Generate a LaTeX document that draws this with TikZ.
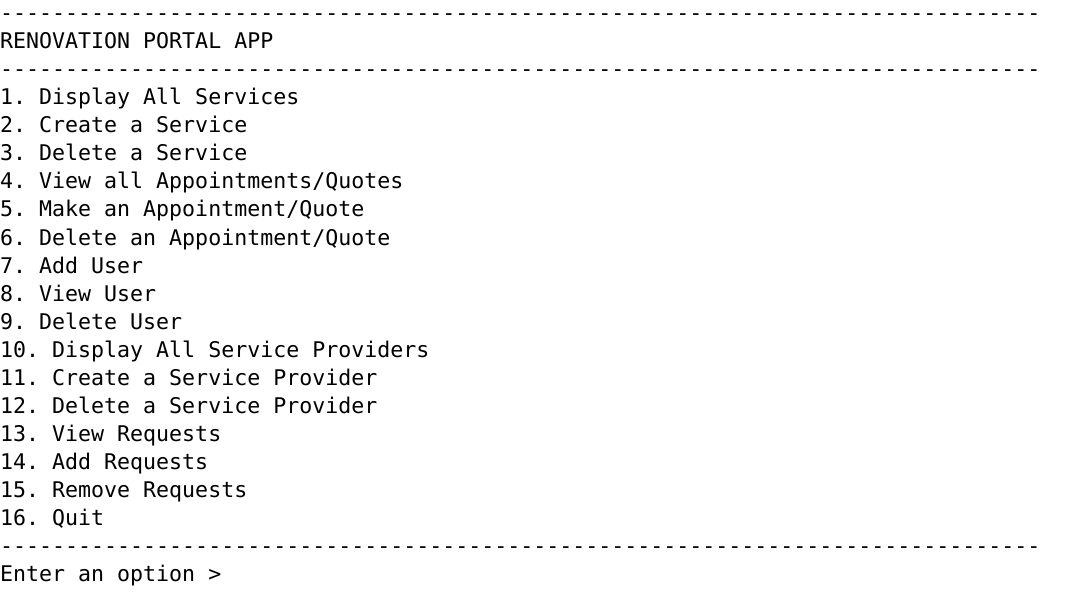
\documentclass[tikz,border=0pt]{standalone}
\usepackage{fontspec}
\setmonofont{DejaVu Sans Mono}
\newcommand\dashline{--------------------------------------------------------------------------------}
\tikzset{
  console/.style={anchor=base west,inner sep=0pt,font=\ttfamily\fontsize{21.6}{28}\selectfont}
}

\begin{document}
\begin{tikzpicture}[x=1pt,y=-1pt]
        \useasboundingbox (0,0) rectangle (1069,607) ;
        %\draw[very thin,gray,step=28] (0,0) grid (1069,607) ;
        \node[console] (rule1) at (0,21) {\dashline} ;
        \node[console] (title) at (0,49) {RENOVATION PORTAL APP} ;
        \node[console] (rule2) at (0,77) {\dashline} ;
        \foreach \txt [count=\n] in {Display All Services,Create a Service,
          Delete a Service,View all Appointments/Quotes,Make an Appointment/Quote,
          Delete an Appointment/Quote,Add User,View User,Delete User,
          Display All Service Providers,Create a Service Provider,
          Delete a Service Provider,View Requests,Add Requests,
          Remove Requests,Quit}
          \node[console] (item\n) at (0,77+28*\n) {\n. \txt} ;
        \node[console] (rule3) at (0,553) {\dashline} ;
        \node[console] (prompt) at (0,581) {Enter an option >} ; % cursor
      \end{tikzpicture}
\end{document}
